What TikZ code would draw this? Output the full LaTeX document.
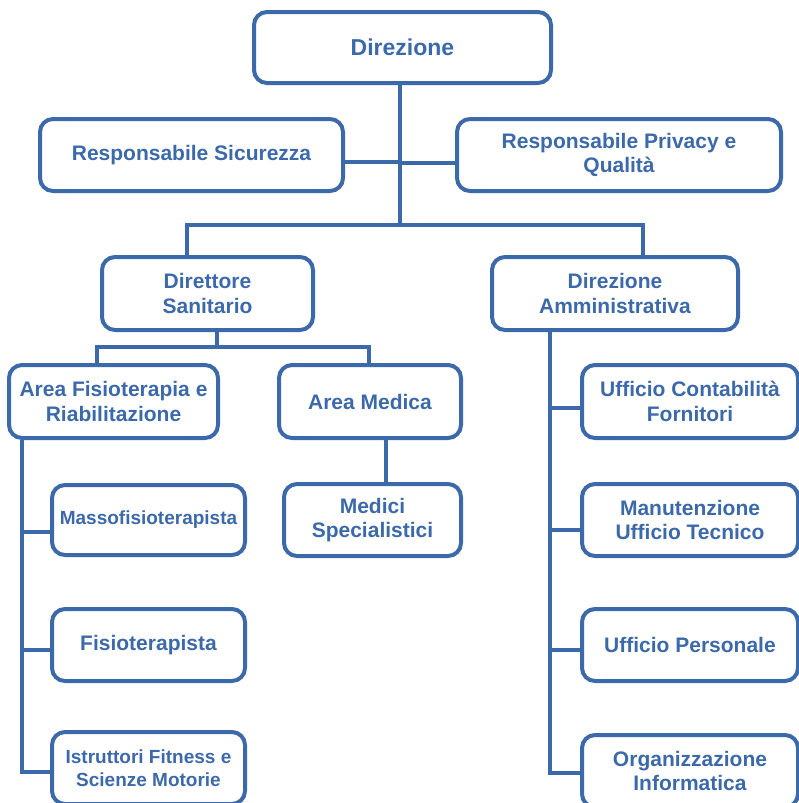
\documentclass[tikz,border=0pt]{standalone}
\usepackage{fontspec}
\setmainfont{Liberation Sans}
\definecolor{orgblue}{RGB}{60,105,170}
\tikzset{
  box/.style={draw=orgblue, line width=4pt, rounded corners=13pt, fill=white,
    text=orgblue, align=center, inner sep=0pt,
    font=\fontsize{21}{24.5}\selectfont\bfseries},
  smallbox/.style={box, font=\fontsize{19}{23}\selectfont\bfseries},
  titlebox/.style={box, font=\fontsize{23}{27}\selectfont\bfseries},
  conn/.style={draw=orgblue, line width=4pt, line join=miter}
}
\begin{document}
\begin{tikzpicture}[x=1pt,y=-1pt]
\path[use as bounding box, clip] (0,0) rectangle (799,803);
\fill[white] (0,0) rectangle (799,803);

% boxes
\node[titlebox, minimum width=297pt, minimum height=71pt] (dir) at (402.5,47.5) {Direzione};
\node[box, minimum width=303pt, minimum height=72pt] (rs) at (191.5,155) {Responsabile Sicurezza};
\node[box, minimum width=324pt, minimum height=72pt] (rp) at (619,155) {Responsabile Privacy e\\Qualità};
\node[box, minimum width=211pt, minimum height=73pt] (ds) at (207.5,293.5) {Direttore\\Sanitario};
\node[box, minimum width=246pt, minimum height=73pt] (da) at (615,293.5) {Direzione\\Amministrativa};
\node[box, minimum width=209pt, minimum height=73pt] (af) at (113.5,401.5) {Area Fisioterapia e\\Riabilitazione};
\node[box, minimum width=182pt, minimum height=73pt] (am) at (370,401.5) {Area Medica};
\node[box, minimum width=177pt, minimum height=72pt] (ms) at (372.5,520) {Medici\\Specialistici};
\node[smallbox, minimum width=193pt, minimum height=70pt] (mf) at (148.5,520) {Massofisioterapista};
\node[box, minimum width=193pt, minimum height=72pt] (fi) at (148.5,645) {Fisioterapista};
\node[smallbox, minimum width=193pt, minimum height=72pt] (is) at (148.5,768) {Istruttori Fitness e\\Scienze Motorie};
\node[box, minimum width=216pt, minimum height=73pt] (uc) at (690,401.5) {Ufficio Contabilità\\Fornitori};
\node[box, minimum width=216pt, minimum height=72pt] (mu) at (690,520) {Manutenzione\\Ufficio Tecnico};
\node[box, minimum width=216pt, minimum height=72pt] (up) at (690,645) {Ufficio Personale};
\node[box, minimum width=216pt, minimum height=72pt] (oi) at (690,771) {Organizzazione\\Informatica};

% connector coordinates
\coordinate (trunk) at (400,225);
\coordinate (cs) at (400,162);
\coordinate (cp) at (400,163);
\coordinate (bl) at (187,225);
\coordinate (br) at (643,225);
\coordinate (d2) at (217,347);
\coordinate (d2l) at (97,347);
\coordinate (d2r) at (369,347);
\coordinate (mm) at (386,0);
\coordinate (ls) at (22,772);
\coordinate (lm) at (22,532);
\coordinate (lf) at (22,650);
\coordinate (rsp) at (550,773);
\coordinate (r1) at (550,408);
\coordinate (r2) at (550,530);
\coordinate (r3) at (550,650);

% connectors
\draw[conn] (dir.south -| trunk) -- (trunk);
\draw[conn] (rs.east |- cs) -- (cs);
\draw[conn] (rp.west |- cp) -- (cp);
\draw[conn] (ds.north -| bl) -- (bl) -- (br) -- (da.north -| br);
\draw[conn] (ds.south -| d2) -- (d2);
\draw[conn] (af.north -| d2l) -- (d2l) -- (d2r) -- (am.north -| d2r);
\draw[conn] (am.south -| mm) -- (ms.north -| mm);
\draw[conn] (af.south -| ls) -- (ls) -- (is.west |- ls);
\draw[conn] (lm) -- (mf.west |- lm);
\draw[conn] (lf) -- (fi.west |- lf);
\draw[conn] (da.south -| rsp) -- (rsp) -- (oi.west |- rsp);
\draw[conn] (r1) -- (uc.west |- r1);
\draw[conn] (r2) -- (mu.west |- r2);
\draw[conn] (r3) -- (up.west |- r3);
\end{tikzpicture}
\end{document}
